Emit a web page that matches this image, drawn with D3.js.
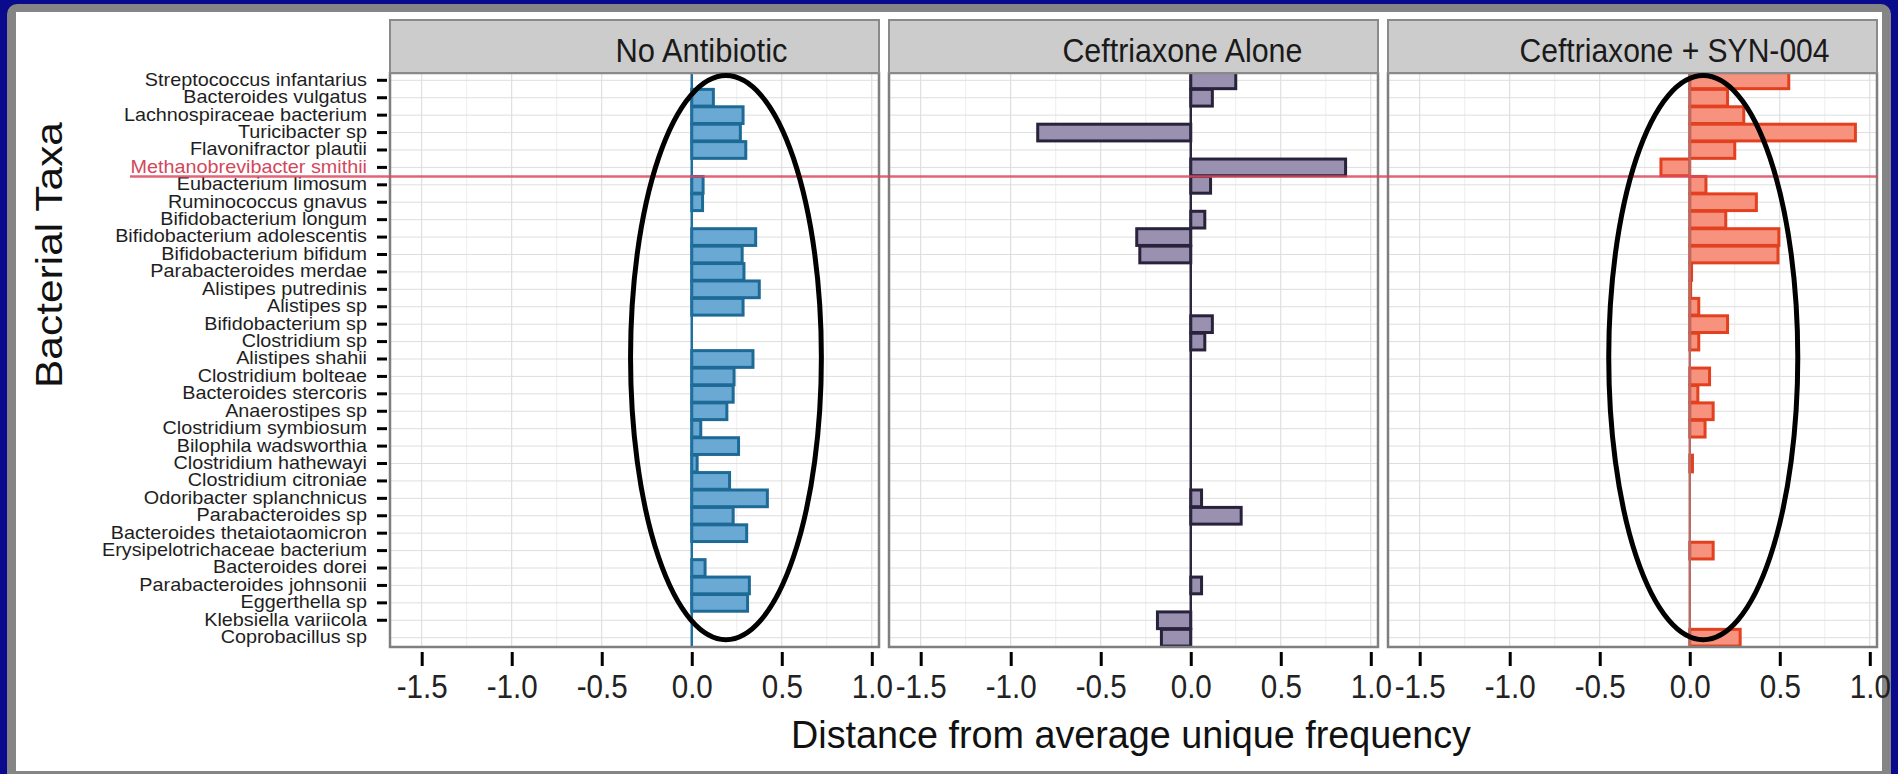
<!DOCTYPE html>
<html>
<head>
<meta charset="utf-8">
<script src="https://cdn.jsdelivr.net/npm/d3@7"></script>
<style>
  body { margin: 0; background: #0a0a8c; }
  svg { display: block; font-family: "Liberation Sans", Arial, sans-serif; }
</style>
</head>
<body>
<svg id="chart"></svg>
<script>
// taxa, top to bottom
const taxa = [
  "Streptococcus infantarius", "Bacteroides vulgatus", "Lachnospiraceae bacterium",
  "Turicibacter sp", "Flavonifractor plautii", "Methanobrevibacter smithii",
  "Eubacterium limosum", "Ruminococcus gnavus", "Bifidobacterium longum",
  "Bifidobacterium adolescentis", "Bifidobacterium bifidum", "Parabacteroides merdae",
  "Alistipes putredinis", "Alistipes sp", "Bifidobacterium sp", "Clostridium sp",
  "Alistipes shahii", "Clostridium bolteae", "Bacteroides stercoris", "Anaerostipes sp",
  "Clostridium symbiosum", "Bilophila wadsworthia", "Clostridium hathewayi",
  "Clostridium citroniae", "Odoribacter splanchnicus", "Parabacteroides sp",
  "Bacteroides thetaiotaomicron", "Erysipelotrichaceae bacterium", "Bacteroides dorei",
  "Parabacteroides johnsonii", "Eggerthella sp", "Klebsiella variicola", "Coprobacillus sp"
];

// distance from average unique frequency, same order as taxa
const noAntibiotic = [0, 0.12, 0.285, 0.27, 0.30, 0, 0.063, 0.06, 0, 0.355, 0.28, 0.29,
  0.375, 0.285, 0, 0, 0.34, 0.235, 0.23, 0.195, 0.05, 0.26, 0.03, 0.21, 0.42, 0.23,
  0.305, 0, 0.074, 0.32, 0.31, 0, 0];
const ceftriaxoneAlone = [0.25, 0.12, 0, -0.85, 0, 0.86, 0.11, 0, 0.078, -0.30, -0.283, 0,
  0, 0, 0.12, 0.078, 0, 0, 0, 0, 0, 0, 0, 0, 0.06, 0.28, 0, 0, 0, 0.06, 0, -0.185, -0.163];
const ceftriaxoneSyn = [0.55, 0.21, 0.30, 0.92, 0.25, -0.16, 0.09, 0.37, 0.20, 0.495, 0.49,
  0.01, 0.005, 0.05, 0.21, 0.05, 0, 0.11, 0.045, 0.13, 0.085, 0, 0.015, 0, 0, 0, 0, 0.13,
  0, 0, 0, 0, 0.28];

const panelTitles = ["No Antibiotic", "Ceftriaxone Alone", "Ceftriaxone + SYN-004"];
const panelValues = [noAntibiotic, ceftriaxoneAlone, ceftriaxoneSyn];
const xTicks = [-1.5, -1.0, -0.5, 0.0, 0.5, 1.0];
const xMinorTicks = [-1.25, -0.75, -0.25, 0.25, 0.75];
const highlightTaxon = "Methanobrevibacter smithii";
// circled regions: panel index and x extent (data units)
const circled = [{panel: 0, x: [-0.34, 0.72]}, {panel: 2, x: [-0.45, 0.60]}];

const W = 1898, H = 774;
const panelLeft = 390, panelWidth = 489, panelGap = 10;
const stripTop = 20, plotTop = 73, plotBottom = 647;
const styles = [
  {fill: "#6aa9d3", stroke: "#1d6a97", zero: "#1f6f9f", strip: 0.637, len: 172},
  {fill: "#9a91b0", stroke: "#29223b", zero: "#2b2540", strip: 0.600, len: 240},
  {fill: "#f6927e", stroke: "#e2401f", zero: "#b86a64", strip: 0.586, len: 310}
];

const svg = d3.select("#chart").attr("width", W).attr("height", H);

// slide frame
svg.append("rect").attr("width", W).attr("height", H).attr("fill", "#0a0a8c");
svg.append("rect").attr("x", 7).attr("y", 4).attr("width", 1884).attr("height", 790)
  .attr("rx", 10).attr("fill", "#858585");
svg.append("rect").attr("x", 16).attr("y", 12).attr("width", 1866).attr("height", 759)
  .attr("fill", "#ffffff");

const y = d3.scaleBand().domain(taxa).range([71.6, 646.4])
  .paddingInner(0.04).paddingOuter(0.02);

panelValues.forEach((vals, i) => {
  const x0 = panelLeft + i * (panelWidth + panelGap);
  const x1 = x0 + panelWidth;
  const st = styles[i];
  const x = d3.scaleLinear().domain([-1.676, 1.04]).range([x0, x1]);
  const g = svg.append("g");

  g.append("clipPath").attr("id", "clip" + i)
    .append("rect").attr("x", x0).attr("y", plotTop).attr("width", panelWidth)
    .attr("height", plotBottom - plotTop);

  // gridlines
  g.selectAll(".minor").data(xMinorTicks).join("line")
    .attr("x1", d => x(d)).attr("x2", d => x(d))
    .attr("y1", plotTop).attr("y2", plotBottom)
    .attr("stroke", "#eeeeee").attr("stroke-width", 1);
  g.selectAll(".major").data(xTicks).join("line")
    .attr("x1", d => x(d)).attr("x2", d => x(d))
    .attr("y1", plotTop).attr("y2", plotBottom)
    .attr("stroke", "#d9d9d9").attr("stroke-width", 1);
  g.selectAll(".hgrid").data(taxa).join("line")
    .attr("x1", x0).attr("x2", x1)
    .attr("y1", d => y(d) + y.bandwidth() / 2).attr("y2", d => y(d) + y.bandwidth() / 2)
    .attr("stroke", "#dedede").attr("stroke-width", 1);

  // bars
  const data = taxa.map((t, k) => ({t, v: vals[k]})).filter(d => d.v !== 0);
  g.append("g").attr("clip-path", `url(#clip${i})`)
    .selectAll("rect").data(data).join("rect")
    .attr("x", d => x(Math.min(0, d.v)))
    .attr("width", d => Math.abs(x(d.v) - x(0)))
    .attr("y", d => y(d.t))
    .attr("height", y.bandwidth())
    .attr("fill", st.fill).attr("stroke", st.stroke).attr("stroke-width", 3);

  // zero line
  g.append("line").attr("x1", x(0)).attr("x2", x(0))
    .attr("y1", plotTop).attr("y2", plotBottom)
    .attr("stroke", st.zero).attr("stroke-width", 2.5);

  // panel border
  g.append("rect").attr("x", x0).attr("y", plotTop).attr("width", panelWidth)
    .attr("height", plotBottom - plotTop)
    .attr("fill", "none").attr("stroke", "#7f7f7f").attr("stroke-width", 2.5);

  // strip
  g.append("rect").attr("x", x0).attr("y", stripTop).attr("width", panelWidth)
    .attr("height", plotTop - stripTop)
    .attr("fill", "#cccccc").attr("stroke", "#8a8a8a").attr("stroke-width", 2);
  g.append("text").attr("x", x0 + panelWidth * st.strip).attr("y", 62)
    .attr("text-anchor", "middle").attr("font-size", 33).attr("fill", "#1a1a1a")
    .attr("textLength", st.len).attr("lengthAdjust", "spacingAndGlyphs")
    .text(panelTitles[i]);

  // x axis
  const xAxis = d3.axisBottom(x).tickValues(xTicks).tickSize(14).tickPadding(8)
    .tickFormat(d => d.toFixed(1));
  const ax = g.append("g").attr("transform", `translate(0,${plotBottom + 5})`).call(xAxis);
  ax.select(".domain").remove();
  ax.selectAll(".tick line").attr("stroke", "#000").attr("stroke-width", 3);
  ax.selectAll(".tick text").attr("font-size", 34).attr("fill", "#222")
    .attr("font-family", "Liberation Sans, Arial, sans-serif")
    .attr("transform", "scale(0.87,1)");
});

// y axis labels (slightly wide glyphs, as in the original)
const yAxis = d3.axisLeft(y).tickSize(10).tickPadding(10);
const yg = svg.append("g").attr("transform", "translate(387,0)").call(yAxis);
yg.select(".domain").remove();
yg.selectAll(".tick line").attr("stroke", "#000").attr("stroke-width", 3);
yg.selectAll(".tick").filter(d => d === taxa[taxa.length - 1]).select("line").remove();
yg.selectAll(".tick text").attr("font-size", 18).attr("dy", "0.3em")
  .attr("x", -20 / 1.1).attr("transform", "scale(1.1,1)")
  .attr("font-family", "Liberation Sans, Arial, sans-serif")
  .attr("fill", d => d === highlightTaxon ? "#d4475c" : "#1e1e1e");

// highlight line under Methanobrevibacter smithii
const hy = y(highlightTaxon) + y.step();
svg.append("line").attr("x1", 130).attr("x2", 1878).attr("y1", hy).attr("y2", hy)
  .attr("stroke", "#dc4a5e").attr("stroke-opacity", 0.85).attr("stroke-width", 2.5);

// circled regions
circled.forEach(c => {
  const x0 = panelLeft + c.panel * (panelWidth + panelGap);
  const x = d3.scaleLinear().domain([-1.676, 1.04]).range([x0, x0 + panelWidth]);
  const yTop = plotTop + 2.5;
  const yBot = y(taxa[taxa.length - 1]) + y.bandwidth() / 2 + 2;
  svg.append("ellipse")
    .attr("cx", (x(c.x[0]) + x(c.x[1])) / 2).attr("rx", (x(c.x[1]) - x(c.x[0])) / 2)
    .attr("cy", (yTop + yBot) / 2).attr("ry", (yBot - yTop) / 2)
    .attr("fill", "none").attr("stroke", "#000").attr("stroke-width", 5);
});

// axis titles
svg.append("text").attr("x", 1131).attr("y", 748).attr("text-anchor", "middle")
  .attr("font-size", 38).attr("fill", "#111")
  .attr("textLength", 680).attr("lengthAdjust", "spacingAndGlyphs")
  .text("Distance from average unique  frequency");
svg.append("text").attr("transform", "translate(62,255) rotate(-90)")
  .attr("text-anchor", "middle").attr("font-size", 37).attr("fill", "#111")
  .attr("textLength", 266).attr("lengthAdjust", "spacingAndGlyphs")
  .text("Bacterial Taxa");
</script>
</body>
</html>
